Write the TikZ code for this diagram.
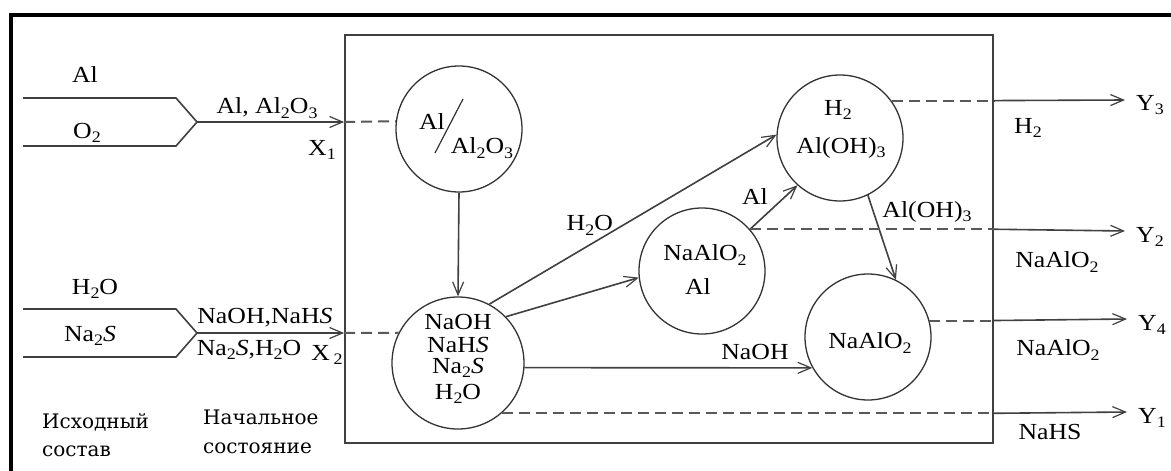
\documentclass[tikz,border=0pt]{standalone}
\usepackage{fontspec}
\setmainfont[FakeStretch=1.12]{Liberation Serif}
\newfontfamily\rufont{DejaVu Serif}
\usetikzlibrary{arrows.meta}
\newcommand\sbs[1]{\raisebox{-0.4ex}{\fontsize{16}{16}\selectfont #1}}
\begin{document}
\begin{tikzpicture}[x=1pt,y=-1pt,
  ln/.style={draw=black!75, line width=1.6pt},
  arr/.style={ln, -{Straight Barb[length=13pt,width=11pt,line width=1.2pt]}},
  dsh/.style={draw=black!65, line width=2pt, dash pattern=on 11pt off 6pt},
  circ/.style={circle, draw=black!80, line width=1.3pt, minimum size=126pt, inner sep=0pt},
  lbl/.style={font=\fontsize{23}{24}\selectfont, inner sep=0pt},
  rus/.style={font=\rufont\fontsize{20}{21}\selectfont, inner sep=0pt, anchor=west}]
\useasboundingbox (0,0) rectangle (1171,471);
\fill[white] (0,0) rectangle (1171,471);
% outer frame (cropped)
\draw[line width=4pt] (11,480) -- (11,15) -- (1180,15);
% inner box
\node[draw=black!75, line width=1.8pt, minimum width=648pt, minimum height=408pt, inner sep=0pt] (box) at (669,239) {};
% circles
\node[circ] (c1) at (459,129) {};
\node[circ, minimum size=132pt] (c2) at (458,363) {};
\node[circ] (c3) at (840,138) {};
\node[circ] (c4) at (702,271) {};
\node[circ] (c5) at (868,337) {};
% circle texts
\node[lbl] (t1a) at (432,122) {Al};
\node[lbl] (t1b) at (482,148) {Al\sbs{2}O\sbs{3}};
\draw[black!80, line width=1.2pt] ([shift={(4,-30)}]c1.center) -- ([shift={(-24,24)}]c1.center);
\node[lbl] (t2a) at (458,322) {NaOH};
\node[lbl] (t2b) at (458,345) {NaH\textit{S}};
\node[lbl] (t2c) at (458,368) {Na\sbs{2}\textit{S}};
\node[lbl] (t2d) at (458,394) {H\sbs{2}O};
\node[lbl] (t3a) at (838,110) {H\sbs{2}};
\node[lbl] (t3b) at (841,148) {Al(OH)\sbs{3}};
\node[lbl] (t4a) at (705,255) {NaAlO\sbs{2}};
\node[lbl] (t4b) at (698,287) {Al};
\node[lbl] (t5a) at (870,343) {NaAlO\sbs{2}};
% input 1
\coordinate (a1s) at (23,98);
\coordinate (a1e) at (176,98);
\coordinate (ap1) at (197,122);
\coordinate (b1e) at (176,146);
\coordinate (b1s) at (23,146);
\draw[ln] (a1s) -- (a1e) -- (ap1) -- (b1e) -- (b1s);
\node[lbl] (in1a) at (85,75) {Al};
\node[lbl] (in1b) at (87,133) {O\sbs{2}};
\node[lbl] (in1c) at (267,108) {Al, Al\sbs{2}O\sbs{3}};
\node[lbl] (x1) at (322,150) {X\sbs{1}};
\draw[arr] (ap1) -- (ap1 -| box.west);
\draw[dsh] (ap1 -| box.west) -- (c1.173);
% input 2
\coordinate (a2s) at (23,309);
\coordinate (a2e) at (176,309);
\coordinate (ap2) at (197,333);
\coordinate (b2e) at (176,357);
\coordinate (b2s) at (23,357);
\draw[ln] (a2s) -- (a2e) -- (ap2) -- (b2e) -- (b2s);
\node[lbl] (in2a) at (95,289) {H\sbs{2}O};
\node[lbl] (in2b) at (90,336) {Na\sbs{2}\textit{S}};
\node[lbl] (in2c) at (265,318) {NaOH,NaH\textit{S}};
\node[lbl] (in2d) at (249,350) {Na\sbs{2}\textit{S},H\sbs{2}O};
\node[lbl] (x2) at (327,355) {X\,\sbs{2}};
\draw[arr] (ap2) -- (ap2 -| box.west);
\draw[dsh] (ap2 -| box.west) -- (c2.153);
% bottom-left captions
\node[rus] (r1) at (42,422) {Исходный};
\node[rus] (r2) at (42,451) {состав};
\node[rus] (r3) at (203,417) {Начальное};
\node[rus] (r4) at (203,448) {состояние};
% internal connectors
\draw[arr] (c1.south) -- (c2.north);
\draw[arr] (c2.62) -- (c3.177) node[lbl, pos=0.35, above=9pt] (lh2o) {H\sbs{2}O};
\draw[arr] (c2.44) -- (c4.186);
\draw[arr] (c4.41) -- (c3.228);
\node[lbl] (lal) at (755,197) {Al};
\draw[arr] (c3.-64) -- (c5.64);
\node[lbl] (laloh) at (927,212) {Al(OH)\sbs{3}};
\draw[arr] (c2.-4) -- (c5.209.5);
\node[lbl] (lnaoh) at (755,352) {NaOH};
% outputs
\coordinate (e3) at (1125,100);
\coordinate (e2) at (1125,231);
\coordinate (e4) at (1127,319);
\coordinate (e1) at (1127,412);
\draw[dsh] (c3.36) -- (c3.36 -| box.east);
\draw[arr] (c3.36 -| box.east) -- (e3);
\draw[dsh] (c4.41) -- (c4.41 -| box.east);
\draw[arr] (c4.41 -| box.east) -- (e2);
\draw[dsh] (c5.15) -- (c5.15 -| box.east);
\draw[arr] (c5.15 -| box.east) -- (e4);
\draw[dsh] (c2.-49) -- (c2.-49 -| box.east);
\draw[arr] (c2.-49 -| box.east) -- (e1);
\node[lbl, anchor=west] (y3) at (1136,105) {Y\sbs{3}};
\node[lbl, anchor=west] (y2) at (1136,237) {Y\sbs{2}};
\node[lbl, anchor=west] (y4) at (1138,325) {Y\sbs{4}};
\node[lbl, anchor=west] (y1) at (1138,418) {Y\sbs{1}};
\node[lbl] (o3) at (1028,128) {H\sbs{2}};
\node[lbl] (o2) at (1057,262) {NaAlO\sbs{2}};
\node[lbl] (o4) at (1058,350) {NaAlO\sbs{2}};
\node[lbl] (o1) at (1050,432) {NaHS};
\end{tikzpicture}
\end{document}
